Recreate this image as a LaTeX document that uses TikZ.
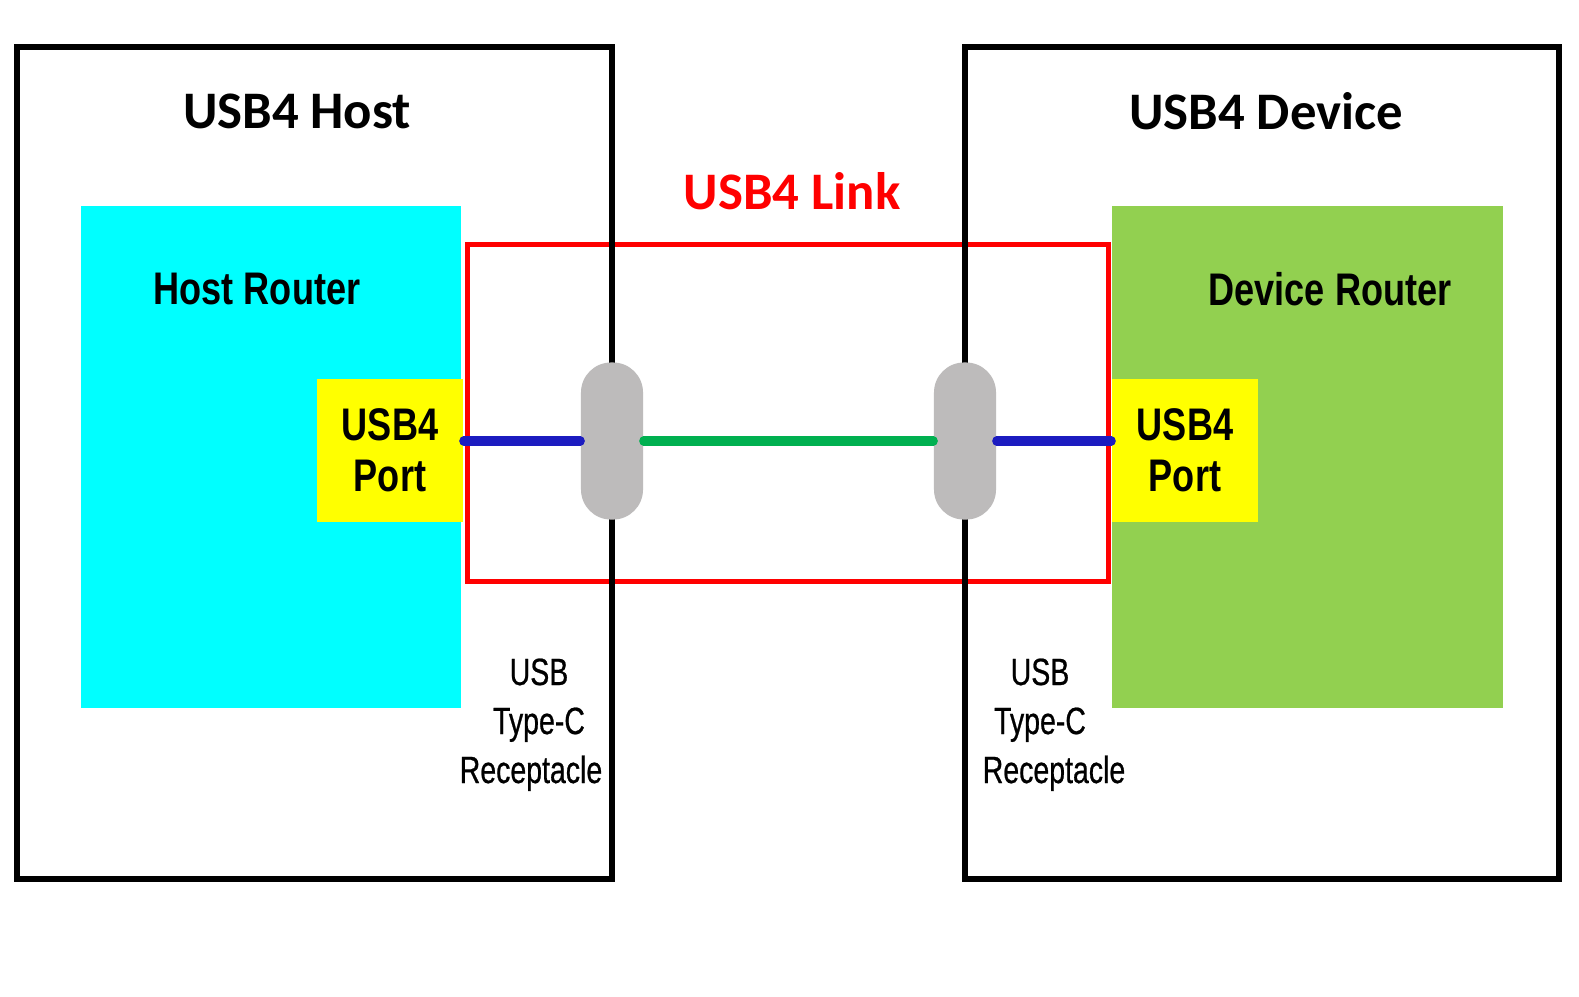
\documentclass[tikz,border=0pt]{standalone}
\usepackage{fontspec}
\setmainfont{Carlito}
\newfontfamily\narrowfont[FakeStretch=0.79]{Liberation Sans}
\newfontfamily\narrowthin[FakeStretch=0.75,FakeBold=0.6]{Liberation Sans}
\definecolor{hostcyan}{HTML}{00FFFF}
\definecolor{devgreen}{HTML}{92D050}
\definecolor{portyellow}{HTML}{FFFF00}
\definecolor{linkred}{HTML}{FF0000}
\definecolor{wireblue}{HTML}{1C1CC0}
\definecolor{wiregreen}{HTML}{00B050}
\definecolor{pillgray}{HTML}{BDBBBB}
\tikzset{
  outerbox/.style={draw=black, line width=1.7pt, inner sep=0pt},
  routerbox/.style={draw=none, inner sep=0pt},
  portbox/.style={fill=portyellow, draw=none, inner sep=0pt, minimum width=1.46cm, minimum height=1.43cm},
  linkbox/.style={draw=linkred, line width=1.4pt, inner sep=0pt, minimum width=6.40cm, minimum height=3.36cm},
  pill/.style={fill=pillgray, draw=none, inner sep=0pt, minimum width=0.62cm, minimum height=1.57cm, rounded corners=0.3cm},
  titletext/.style={font=\fontsize{15}{18}\selectfont\bfseries, inner sep=0pt},
  routertext/.style={font=\narrowfont\fontsize{13}{15}\selectfont\bfseries, inner sep=0pt},
  porttext/.style={font=\narrowfont\fontsize{13}{14.5}\selectfont\bfseries, align=center, inner sep=0pt},
  recepttext/.style={font=\narrowthin\fontsize{10.8}{13.9}\selectfont, inner sep=0pt, anchor=base},
  wire/.style={line width=2.6pt, line cap=round}
}
\begin{document}
\begin{tikzpicture}[x=0.01cm, y=-0.01cm]
\fill[white] (0,0) rectangle (1579,996);
\useasboundingbox (0,0) rectangle (1579,996);
% routers
\node[routerbox, fill=hostcyan, minimum width=3.80cm, minimum height=5.02cm] (hrouter) at (271,457) {};
\node[routerbox, fill=devgreen, minimum width=3.91cm, minimum height=5.02cm] (drouter) at (1307.5,457) {};
% ports
\node[portbox] (lport) at (390,450.5) {};
\node[portbox] (rport) at (1185,450.5) {};
\node[porttext] (lporttext) at (lport.center) {USB4\\Port};
\node[porttext] (rporttext) at (rport.center) {USB4\\Port};
% link box
\node[linkbox] (link) at (788,413) {};
% outer boxes
\node[outerbox, minimum width=5.95cm, minimum height=8.32cm] (host) at (314.5,463) {};
\node[outerbox, minimum width=5.94cm, minimum height=8.32cm] (device) at (1262,463) {};
% pills (receptacles)
\node[pill] (lpill) at (612,441) {};
\node[pill] (rpill) at (965,441) {};
% wires
\draw[wire, wireblue] (lport.east |- lpill.west) -- (lpill.west);
\draw[wire, wiregreen] (lpill.east) -- (rpill.west);
\draw[wire, wireblue] (rpill.east) -- (rport.west |- rpill.east);
% texts
\node[titletext] (hosttitle) at (297,111) {USB4 Host};
\node[titletext] (devtitle) at (1266,111) {USB4 Device};
\node[titletext, text=linkred] (linktitle) at (792,191) {USB4 Link};
\node[routertext] (hrtext) at (257,289) {Host Router};
\node[routertext] (drtext) at (1330,289) {Device Router};
\node[recepttext] (lrec1) at (539,685) {USB};
\node[recepttext] (lrec2) at (539,734) {Type-C};
\node[recepttext] (lrec3) at (531,783) {Receptacle};
\node[recepttext] (rrec1) at (1040,685) {USB};
\node[recepttext] (rrec2) at (1040,734) {Type-C};
\node[recepttext] (rrec3) at (1054,783) {Receptacle};
\end{tikzpicture}
\end{document}
